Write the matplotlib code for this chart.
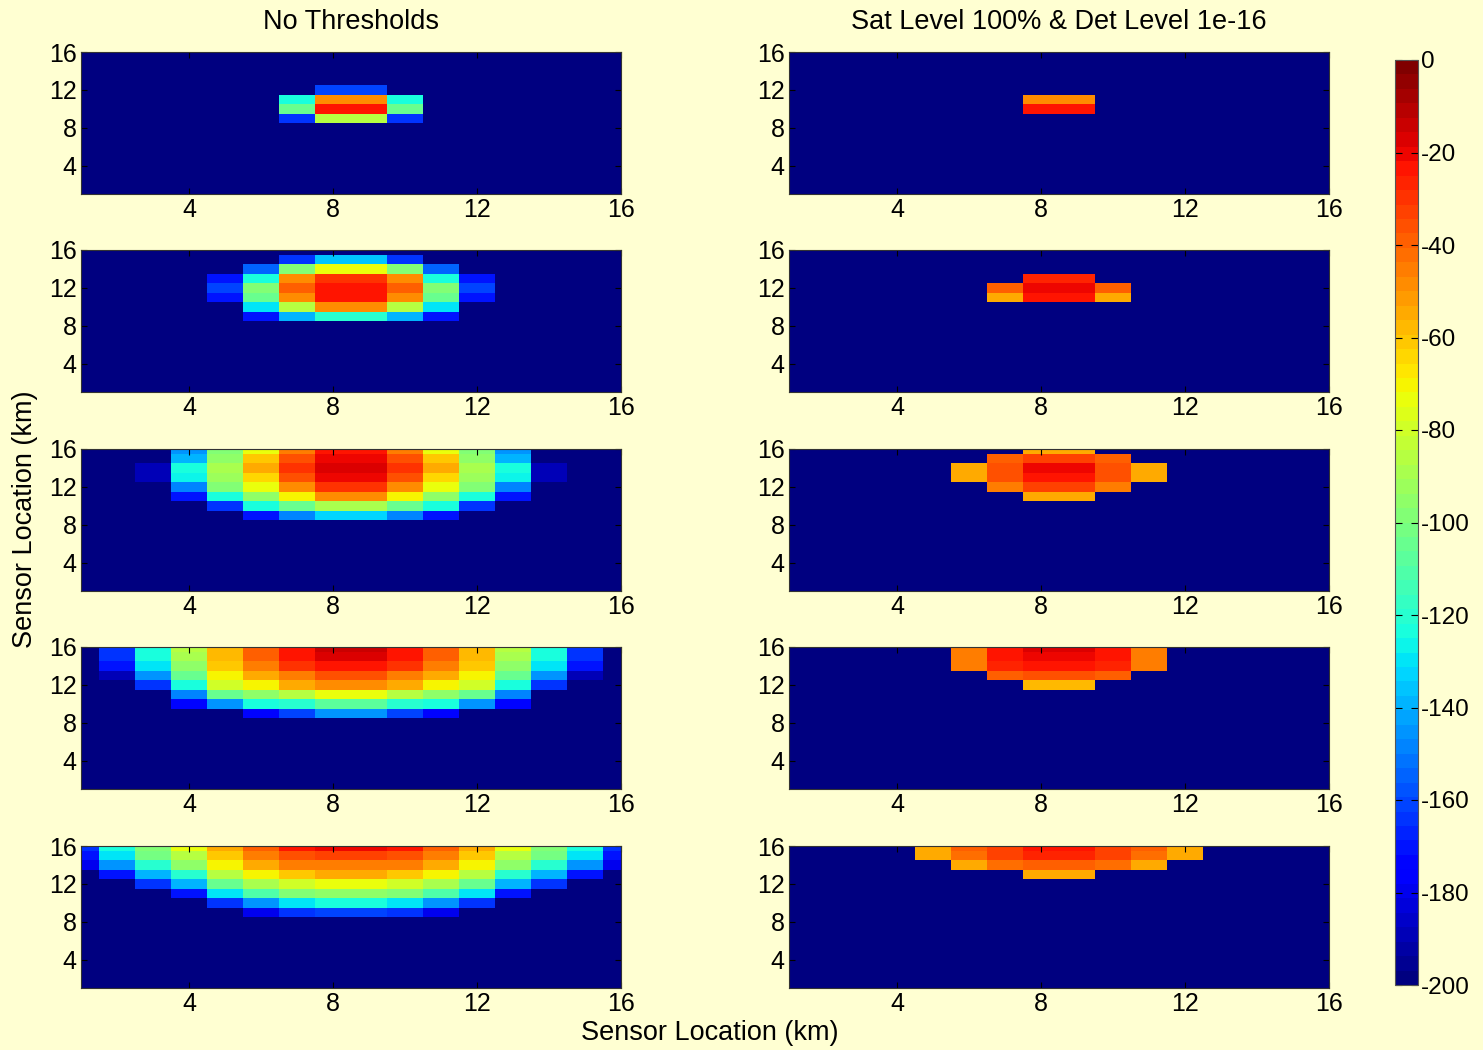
import numpy as np
import matplotlib
matplotlib.use('Agg')
import matplotlib.pyplot as plt

plt.rcParams['font.family'] = ['Liberation Sans', 'DejaVu Sans']
plt.rcParams['axes.unicode_minus'] = False

F = -200  # bottom of the colour scale

# received level, rows listed from 16 km downwards, columns 1..16 km
no_thr_1 = [
    [F, F, F, F, F, F, F, F, F, F, F, F, F, F, F, F],
    [F, F, F, F, F, F, F, F, F, F, F, F, F, F, F, F],
    [F, F, F, F, F, F, F, F, F, F, F, F, F, F, F, F],
    [F, F, F, F, F, F, F, F, F, F, F, F, F, F, F, F],
    [F, F, F, F, F, F, F, -160, -160, F, F, F, F, F, F, F],
    [F, F, F, F, F, F, -125, -50, -50, -125, F, F, F, F, F, F],
    [F, F, F, F, F, F, -105, -25, -25, -105, F, F, F, F, F, F],
    [F, F, F, F, F, F, -165, -85, -85, -165, F, F, F, F, F, F],
]
no_thr_2 = [
    [F, F, F, F, F, F, F, F, F, F, F, F, F, F, F, F],
    [F, F, F, F, F, F, -165, -135, -135, -165, F, F, F, F, F, F],
    [F, F, F, F, F, -155, -100, -75, -75, -100, -155, F, F, F, F, F],
    [F, F, F, F, -170, -125, -50, -30, -30, -50, -125, -170, F, F, F, F],
    [F, F, F, F, -160, -100, -40, -22, -22, -40, -100, -160, F, F, F, F],
    [F, F, F, F, -170, -105, -50, -25, -25, -50, -105, -170, F, F, F, F],
    [F, F, F, F, F, -130, -85, -50, -50, -85, -130, F, F, F, F, F],
    [F, F, F, F, F, -170, -140, -120, -120, -140, -170, F, F, F, F, F],
]
no_thr_3 = [
    [F, F, F, -145, -100, -75, -45, -25, -25, -45, -75, -100, -145, F, F, F],
    [F, F, F, -140, -95, -62, -35, -20, -20, -35, -62, -95, -140, F, F, F],
    [F, F, -188, -125, -90, -55, -30, -18, -18, -30, -55, -90, -125, -188, F, F],
    [F, F, -188, -128, -92, -65, -35, -20, -20, -35, -65, -92, -128, -188, F, F],
    [F, F, F, -150, -100, -75, -48, -30, -30, -48, -75, -100, -150, F, F, F],
    [F, F, F, -170, -125, -95, -70, -50, -50, -70, -95, -125, -170, F, F, F],
    [F, F, F, F, -165, -125, -105, -88, -88, -105, -125, -165, F, F, F, F],
    [F, F, F, F, F, -170, -148, -132, -132, -148, -170, F, F, F, F, F],
]
no_thr_4 = [
    [F, -165, -125, -85, -58, -38, -22, -15, -15, -22, -38, -58, -85, -125, -165, F],
    [F, -165, -125, -90, -58, -38, -24, -17, -17, -24, -38, -58, -90, -125, -165, F],
    [F, -170, -130, -95, -62, -45, -30, -22, -22, -30, -45, -62, -95, -130, -170, F],
    [F, -190, -145, -105, -70, -55, -45, -35, -35, -45, -55, -70, -105, -145, -190, F],
    [F, F, -165, -125, -80, -70, -55, -50, -50, -55, -70, -80, -125, -165, F, F],
    [F, F, F, -150, -105, -95, -85, -72, -72, -85, -95, -105, -150, F, F, F],
    [F, F, F, -175, -145, -125, -120, -108, -108, -120, -125, -145, -175, F, F, F],
    [F, F, F, F, F, -175, -160, -145, -145, -160, -175, F, F, F, F, F],
]
no_thr_5 = [
    [-165, -125, -100, -75, -55, -40, -25, -20, -20, -25, -40, -55, -75, -100, -125, -165],
    [-170, -130, -103, -85, -60, -45, -35, -32, -32, -35, -45, -60, -85, -103, -130, -170],
    [-180, -145, -120, -95, -70, -55, -45, -45, -45, -45, -55, -70, -95, -120, -145, -180],
    [F, -170, -140, -120, -85, -70, -60, -55, -55, -60, -70, -85, -120, -140, -170, F],
    [F, F, -165, -140, -105, -90, -80, -75, -75, -80, -90, -105, -140, -165, F, F],
    [F, F, F, -170, -130, -110, -100, -95, -95, -100, -110, -130, -170, F, F, F],
    [F, F, F, F, -165, -145, -130, -125, -125, -130, -145, -165, F, F, F, F],
    [F, F, F, F, F, -180, -165, -160, -160, -165, -180, F, F, F, F, F],
]

sat_1 = [
    [F, F, F, F, F, F, F, F, F, F, F, F, F, F, F, F],
    [F, F, F, F, F, F, F, F, F, F, F, F, F, F, F, F],
    [F, F, F, F, F, F, F, F, F, F, F, F, F, F, F, F],
    [F, F, F, F, F, F, F, F, F, F, F, F, F, F, F, F],
    [F, F, F, F, F, F, F, F, F, F, F, F, F, F, F, F],
    [F, F, F, F, F, F, F, -50, -50, F, F, F, F, F, F, F],
    [F, F, F, F, F, F, F, -24, -24, F, F, F, F, F, F, F],
]
sat_2 = [
    [F, F, F, F, F, F, F, F, F, F, F, F, F, F, F, F],
    [F, F, F, F, F, F, F, F, F, F, F, F, F, F, F, F],
    [F, F, F, F, F, F, F, F, F, F, F, F, F, F, F, F],
    [F, F, F, F, F, F, F, -28, -28, F, F, F, F, F, F, F],
    [F, F, F, F, F, F, -40, -20, -20, -40, F, F, F, F, F, F],
    [F, F, F, F, F, F, -55, -22, -22, -55, F, F, F, F, F, F],
]
sat_3 = [
    [F, F, F, F, F, F, F, -55, -55, F, F, F, F, F, F, F],
    [F, F, F, F, F, F, -40, -32, -32, -40, F, F, F, F, F, F],
    [F, F, F, F, F, -55, -35, -20, -20, -35, -55, F, F, F, F, F],
    [F, F, F, F, F, -55, -35, -22, -22, -35, -55, F, F, F, F, F],
    [F, F, F, F, F, F, -45, -32, -32, -45, F, F, F, F, F, F],
    [F, F, F, F, F, F, F, -55, -55, F, F, F, F, F, F, F],
]
sat_4 = [
    [F, F, F, F, F, -45, -25, -18, -18, -25, -45, F, F, F, F, F],
    [F, F, F, F, F, -45, -25, -20, -20, -25, -45, F, F, F, F, F],
    [F, F, F, F, F, -45, -28, -22, -22, -28, -45, F, F, F, F, F],
    [F, F, F, F, F, F, -40, -35, -35, -40, F, F, F, F, F, F],
    [F, F, F, F, F, F, F, -58, -58, F, F, F, F, F, F, F],
]
sat_5 = [
    [F, F, F, F, -55, -40, -32, -24, -24, -32, -40, -55, F, F, F, F],
    [F, F, F, F, -55, -42, -32, -27, -27, -32, -42, -55, F, F, F, F],
    [F, F, F, F, F, -55, -42, -38, -38, -42, -55, F, F, F, F, F],
    [F, F, F, F, F, F, F, -55, -55, F, F, F, F, F, F, F],
]

col_titles = ['No Thresholds', 'Sat Level 100% & Det Level 1e-16']
axis_ticks = [4, 8, 12, 16]
cbar_ticks = list(range(-200, 1, 20))


def to_grid(rows):
    # rows run from y=16 down; everything below is at the floor
    z = np.full((16, 16), F, dtype=float)
    z[16 - len(rows):, :] = np.array(rows, dtype=float)[::-1]
    return z


bg = '#ffffd2'
fig = plt.figure(figsize=(14.83, 10.5), dpi=100, facecolor=bg)
cmap = plt.get_cmap('jet', 64)
edges = np.arange(0.5, 17, 1)

left_x = [81 / 1483, 789 / 1483]
width = 540 / 1483
height = 142 / 1050
row_bottoms = [1 - 194 / 1050, 1 - 392 / 1050, 1 - 591 / 1050,
               1 - 789 / 1050, 1 - 988 / 1050]

panels = [[no_thr_1, no_thr_2, no_thr_3, no_thr_4, no_thr_5],
          [sat_1, sat_2, sat_3, sat_4, sat_5]]

mesh = None
for c in range(2):
    for r in range(5):
        ax = fig.add_axes([left_x[c], row_bottoms[r], width, height])
        mesh = ax.pcolormesh(edges, edges, to_grid(panels[c][r]),
                             cmap=cmap, vmin=-200, vmax=0)
        ax.set_xlim(1, 16)
        ax.set_ylim(1, 16)
        ax.set_xticks(axis_ticks)
        ax.set_yticks(axis_ticks)
        ax.tick_params(direction='in', top=True, right=True, labelsize=18,
                       length=4, width=0.8, pad=3)
        for s in ax.spines.values():
            s.set_color('#333333')
            s.set_linewidth(0.8)

for c in range(2):
    fig.text(left_x[c] + width / 2, 1 - 22 / 1050, col_titles[c],
             ha='center', va='center', fontsize=19.5)

fig.text(25 / 1483, 0.505, 'Sensor Location (km)', rotation=90,
         ha='center', va='center', fontsize=19.5)
fig.text(710 / 1483, 1 - 1033 / 1050, 'Sensor Location (km)',
         ha='center', va='center', fontsize=19.5)

cax = fig.add_axes([1395 / 1483, 1 - 985 / 1050, 23 / 1483, 925 / 1050])
cb = fig.colorbar(mesh, cax=cax, ticks=cbar_ticks)
cb.outline.set_edgecolor('#555555')
cax.tick_params(direction='in', left=True, right=True, labelsize=17.5,
                length=5, width=0.8, pad=2)

fig.savefig('out.png', dpi=100, facecolor=bg)
